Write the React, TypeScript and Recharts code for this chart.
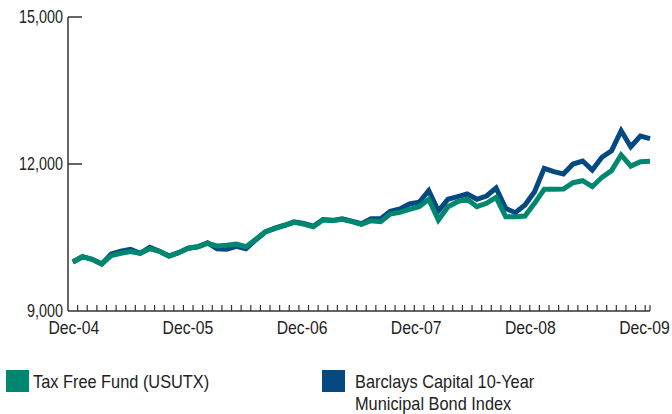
import { LineChart, Line, XAxis, YAxis } from 'recharts'

// no condensed face is installed, so Arial metrics get squeezed horizontally
const FONT = '"Liberation Sans", Arial, sans-serif'

// month index 0 = Dec-04 ... 60 = Dec-09
const yearLabels = ['Dec-04', 'Dec-05', 'Dec-06', 'Dec-07', 'Dec-08', 'Dec-09']
const yTicks = [9000, 12000, 15000]

const taxFreeFund = [
  10000, 10108, 10055, 9959, 10129, 10178, 10215, 10178, 10270, 10218, 10122, 10190,
  10280, 10312, 10380, 10327, 10340, 10367, 10312, 10460, 10612, 10680, 10741, 10810,
  10776, 10721, 10857, 10843, 10871, 10823, 10769, 10843, 10823, 10980, 11014, 11075,
  11129, 11280, 10857, 11129, 11231, 11280, 11129, 11197, 11320, 10925, 10925, 10939,
  11197, 11483, 11483, 11490, 11618, 11659, 11537, 11728, 11864, 12184, 11957, 12047,
  12054,
]

const barclaysIndex = [
  10000, 10108, 10055, 9959, 10163, 10220, 10260, 10178, 10300, 10218, 10122, 10190,
  10280, 10312, 10390, 10272, 10260, 10320, 10272, 10450, 10612, 10690, 10750, 10820,
  10786, 10730, 10867, 10850, 10880, 10835, 10780, 10884, 10884, 11035, 11082, 11184,
  11218, 11455, 11040, 11280, 11333, 11388, 11280, 11347, 11510, 11095, 11007, 11163,
  11435, 11912, 11844, 11796, 12000, 12061, 11878, 12137, 12271, 12680, 12353, 12571,
  12517,
]

const SERIES = [
  { key: 'index', name: 'Barclays Capital 10-Year Municipal Bond Index', color: '#044a80' },
  { key: 'fund', name: 'Tax Free Fund (USUTX)', color: '#00876f' },
]

const data = taxFreeFund.map((v, i) => ({ i, fund: v, index: barclaysIndex[i] }))

// monthly minor marks sit between data points, year labels on the points
const monthTicks: number[] = []
for (let k = 0; k < 60; k++) monthTicks.push(k + 0.5)
const xTicks = [...monthTicks, 0, 12, 24, 36, 48, 60].sort((a, b) => a - b)

function MonthTick({ x, y, payload }: any) {
  const v = payload.value as number
  const yr = v / 12
  const isLabel = Number.isInteger(yr)
  const hasMark = !Number.isInteger(v) || v === 60
  return (
    <g>
      {hasMark && <line x1={x} x2={x} y1={y} y2={y - 6} stroke="#333" strokeWidth={1.2} />}
      {isLabel && (
        <text transform={`translate(${x + 1 - yr * 1.3},${y + 23}) scale(0.9,1)`} textAnchor="middle" fill="#222"
          style={{ fontFamily: FONT, fontSize: 17.5 }}>
          {yearLabels[yr]}
        </text>
      )}
    </g>
  )
}

function ValueTick({ x, y, payload }: any) {
  const v = payload.value as number
  return (
    <g>
      {v > 9000 && <line x1={x + 5} x2={x + 19} y1={y} y2={y} stroke="#333" strokeWidth={1.5} />}
      <text transform={`translate(${x},${y + 6}) scale(0.82,1)`} textAnchor="end" fill="#222"
        style={{ fontFamily: FONT, fontSize: 17.5 }}>
        {v.toLocaleString('en-US')}
      </text>
    </g>
  )
}

export default function App() {
  const legend = [SERIES[1], SERIES[0]]
  return (
    <div style={{ position: 'absolute', left: 0, top: 0, width: 672, height: 414, background: '#fff', overflow: 'hidden' }}>
      <LineChart width={672} height={414} data={data} margin={{ top: 17, right: 22, left: 0, bottom: 73 }}>
        <XAxis
          dataKey="i"
          type="number"
          domain={[-0.5, 60]}
          ticks={xTicks}
          interval={0}
          tickSize={0}
          tickMargin={0}
          height={30}
          axisLine={{ stroke: '#333', strokeWidth: 1.5 }}
          tick={<MonthTick />}
        />
        <YAxis
          type="number"
          domain={[9000, 15000]}
          ticks={yTicks}
          width={68}
          tickSize={0}
          tickMargin={5}
          interval={0}
          axisLine={{ stroke: '#333', strokeWidth: 1.5 }}
          tick={<ValueTick />}
        />
        {SERIES.map((s) => (
          <Line
            key={s.key}
            dataKey={s.key}
            name={s.name}
            type="linear"
            stroke={s.color}
            strokeWidth={5}
            dot={false}
            activeDot={false}
            isAnimationActive={false}
          />
        ))}
      </LineChart>
      {legend.map((s, n) => (
        <div
          key={s.key}
          style={{
            position: 'absolute',
            left: n === 0 ? 6 : 322,
            top: 370,
            display: 'flex',
            alignItems: 'flex-start',
          }}
        >
          <span style={{ width: 23, height: 22, background: s.color, flexShrink: 0 }} />
          <span
            style={{
              marginLeft: n === 0 ? 4 : 10,
              width: 240,
              paddingTop: 1,
              fontFamily: FONT,
              fontSize: 19,
              lineHeight: '22px',
              color: '#222',
              transform: 'scaleX(0.86)',
              transformOrigin: 'left top',
            }}
          >
            {s.name}
          </span>
        </div>
      ))}
    </div>
  )
}
